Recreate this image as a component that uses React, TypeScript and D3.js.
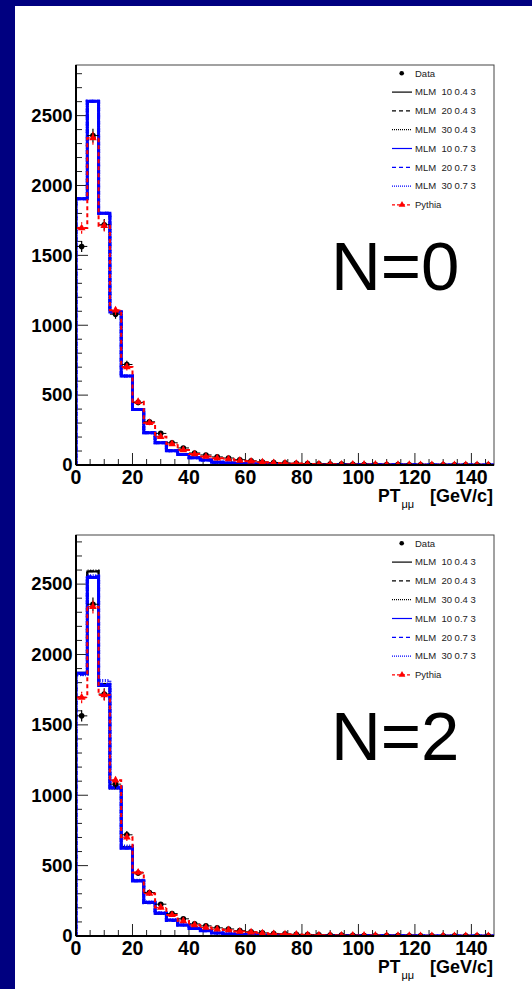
import React from "react";
import * as d3 from "d3";

// ---- Data (37 bins of 4 GeV/c, 0..148) ----
const binWidth = 4;
const nBins = 37;
const xTickLabels = [0, 20, 40, 60, 80, 100, 120, 140];
const yTickLabels = [0, 500, 1000, 1500, 2000, 2500];

const dataCounts = [1564, 2357, 1719, 1079, 719, 448, 309, 226, 159, 122, 86, 72, 58, 50, 38, 30, 22, 18, 15, 12, 10, 8, 7, 6, 5, 4, 4, 3, 3, 2, 2, 2, 2, 1, 1, 1, 1];
const pythiaCounts = [1695, 2340, 1712, 1107, 702, 452, 302, 202, 150, 107, 78, 60, 48, 42, 32, 26, 19, 15, 12, 10, 8, 6, 5, 4, 4, 3, 3, 2, 2, 2, 1, 1, 1, 1, 1, 1, 1];

// N=0: all MLM samples coincide
const mlmN0 = [1905, 2602, 1802, 1095, 636, 398, 231, 159, 102, 76, 52, 36, 19, 14, 10, 8, 6, 5, 4, 3, 3, 2, 2, 2, 1, 1, 1, 1, 1, 1, 0, 0, 0, 0, 0, 0, 0];

// N=2
const mlmN2_10_04 = [1870, 2590, 1785, 1050, 628, 392, 236, 160, 113, 78, 54, 38, 22, 15, 11, 8, 6, 5, 4, 3, 3, 2, 2, 2, 1, 1, 1, 1, 1, 1, 0, 0, 0, 0, 0, 0, 0];
const mlmN2_20_04 = [1866, 2592, 1790, 1055, 630, 395, 238, 162, 112, 77, 53, 37, 21, 15, 11, 8, 6, 5, 4, 3, 3, 2, 2, 2, 1, 1, 1, 1, 1, 1, 0, 0, 0, 0, 0, 0, 0];
const mlmN2_30_04 = [1862, 2596, 1792, 1048, 634, 390, 235, 158, 110, 76, 52, 36, 20, 14, 10, 8, 6, 5, 4, 3, 3, 2, 2, 2, 1, 1, 1, 1, 1, 1, 0, 0, 0, 0, 0, 0, 0];
const mlmN2_10_07 = [1866, 2547, 1780, 1052, 623, 391, 240, 161, 114, 78, 54, 38, 22, 15, 11, 8, 6, 5, 4, 3, 3, 2, 2, 2, 1, 1, 1, 1, 1, 1, 0, 0, 0, 0, 0, 0, 0];
const mlmN2_20_07 = [1860, 2552, 1788, 1058, 626, 393, 237, 163, 111, 79, 55, 37, 21, 15, 11, 8, 6, 5, 4, 3, 3, 2, 2, 2, 1, 1, 1, 1, 1, 1, 0, 0, 0, 0, 0, 0, 0];
const mlmN2_30_07 = [1856, 2560, 1815, 1060, 640, 396, 242, 165, 115, 80, 55, 39, 23, 16, 11, 8, 6, 5, 4, 3, 3, 2, 2, 2, 1, 1, 1, 1, 1, 1, 0, 0, 0, 0, 0, 0, 0];

const legendLabels = ["MLM  10 0.4 3", "MLM  20 0.4 3", "MLM  30 0.4 3", "MLM  10 0.7 3", "MLM  20 0.7 3", "MLM  30 0.7 3"];
const mlmStyles = [
  { color: "#000", dash: "none", w: 2 },
  { color: "#000", dash: "4,3", w: 2 },
  { color: "#000", dash: "1,1.6", w: 2 },
  { color: "#0000ff", dash: "none", w: 3 },
  { color: "#0000ff", dash: "4,3", w: 3 },
  { color: "#0000ff", dash: "1,1.6", w: 3 },
];

const FONT = "'Liberation Sans', Arial, Helvetica, sans-serif";
const X0 = 76, X1 = 494;

function histPath(vals: number[], x: d3.ScaleLinear<number, number>, y: d3.ScaleLinear<number, number>) {
  const pts: [number, number][] = [[x(0), y(0)]];
  vals.forEach((v, i) => {
    pts.push([x(i * binWidth), y(v)]);
    pts.push([x((i + 1) * binWidth), y(v)]);
  });
  pts.push([x(vals.length * binWidth), y(0)]);
  return d3.line()(pts) as string;
}

function Panel({ top, bottom, series, label, id }: { top: number; bottom: number; series: number[][]; label: string; id: string }) {
  const ymax = 1.1 * (d3.max(series[0]) as number);
  const x = d3.scaleLinear().domain([0, nBins * binWidth]).range([X0, X1]);
  const y = d3.scaleLinear().domain([0, ymax]).range([bottom, top]);
  const xMinor = d3.range(0, nBins * binWidth, 5);
  const yMinor = d3.range(0, ymax, 100);
  const centers = d3.range(nBins).map((i) => (i + 0.5) * binWidth);
  const tri = d3.symbol(d3.symbolTriangle, 26)() as string;
  const legY = (i: number) => top + 8.3 + i * 18.8;

  return (
    <g>
      <defs>
        <clipPath id={id}>
          <rect x={X0} y={top} width={X1 - X0} height={bottom - top} />
        </clipPath>
      </defs>
      {/* frame */}
      <rect x={X0} y={top} width={X1 - X0} height={bottom - top} fill="#fff" stroke="#444" strokeWidth={1} />
      {/* ticks */}
      {xMinor.map((v) => (
        <line key={"xm" + v} x1={x(v)} x2={x(v)} y1={bottom} y2={bottom - (v % 20 === 0 ? 12 : 6)} stroke="#222" strokeWidth={1} />
      ))}
      {yMinor.map((v) => (
        <line key={"ym" + v} x1={X0} x2={X0 + (v % 500 === 0 ? 12 : 6)} y1={y(v)} y2={y(v)} stroke="#222" strokeWidth={1} />
      ))}
      <g clipPath={`url(#${id})`}>
        {/* MLM histograms */}
        {series.map((s, k) => (
          <path key={"h" + k} d={histPath(s, x, y)} fill="none" stroke={mlmStyles[k].color} strokeWidth={mlmStyles[k].w} strokeDasharray={mlmStyles[k].dash} />
        ))}
        {/* Data points */}
        {dataCounts.map((v, i) => {
          const e = Math.sqrt(v);
          return (
            <g key={"d" + i}>
              <line x1={x(i * binWidth)} x2={x((i + 1) * binWidth)} y1={y(v)} y2={y(v)} stroke="#000" strokeWidth={1} />
              <line x1={x(centers[i])} x2={x(centers[i])} y1={y(v - e)} y2={y(v + e)} stroke="#000" strokeWidth={1.2} />
              <circle cx={x(centers[i])} cy={y(v)} r={2.8} fill="#000" />
            </g>
          );
        })}
        {/* Pythia */}
        <path d={histPath(pythiaCounts, x, y)} fill="none" stroke="#ff0000" strokeWidth={2} strokeDasharray="4,3" />
        {pythiaCounts.map((v, i) => {
          const e = Math.sqrt(v);
          return (
            <g key={"p" + i}>
              <line x1={x(i * binWidth)} x2={x((i + 1) * binWidth)} y1={y(v)} y2={y(v)} stroke="#ff0000" strokeWidth={1} strokeDasharray="3,2" />
              <line x1={x(centers[i])} x2={x(centers[i])} y1={y(v - e)} y2={y(v + e)} stroke="#ff0000" strokeWidth={1.2} strokeDasharray="3,2" />
              <path d={tri} transform={`translate(${x(centers[i])},${y(v)})`} fill="#ff0000" />
            </g>
          );
        })}
      </g>
      {/* axes lines */}
      <line x1={X0} x2={X0} y1={top} y2={bottom} stroke="#000" strokeWidth={2} />
      <line x1={X0} x2={X1} y1={bottom} y2={bottom} stroke="#000" strokeWidth={2} />
      {/* tick labels */}
      {xTickLabels.map((v) => (
        <text key={"xl" + v} x={x(v)} y={bottom + 18.5} textAnchor="middle" fontFamily={FONT} fontWeight="bold" fontSize={19.5} fill="#000">{v}</text>
      ))}
      {yTickLabels.map((v) => (
        <text key={"yl" + v} x={72.5} y={y(v) + 6.3} textAnchor="end" fontFamily={FONT} fontWeight="bold" fontSize={18.5} fill="#000">{v}</text>
      ))}
      {/* axis title */}
      <text x={378} y={bottom + 37} fontFamily={FONT} fontWeight="bold" fontSize={17.5} fill="#000">PT</text>
      <text x={401.5} y={bottom + 43} fontFamily={FONT} fontSize={11} fill="#000">μμ</text>
      <text x={493} y={bottom + 37} textAnchor="end" fontFamily={FONT} fontWeight="bold" fontSize={18} fill="#000">[GeV/c]</text>
      {/* legend */}
      <circle cx={401.7} cy={legY(0)} r={2.3} fill="#000" />
      <text x={415} y={legY(0) + 3.3} fontFamily={FONT} fontSize={9.5} fill="#222">Data</text>
      {legendLabels.map((lab, k) => (
        <g key={"lg" + k}>
          <line x1={392} x2={412} y1={legY(k + 1)} y2={legY(k + 1)} stroke={mlmStyles[k].color} strokeWidth={1.2} strokeDasharray={mlmStyles[k].dash === "1,1.6" ? "1,1" : mlmStyles[k].dash} />
          <text x={415} y={legY(k + 1) + 3.3} fontFamily={FONT} fontSize={9.5} fill="#222" style={{ whiteSpace: "pre" }}>{lab}</text>
        </g>
      ))}
      <line x1={392} x2={412} y1={legY(7)} y2={legY(7)} stroke="#ff0000" strokeWidth={1.2} strokeDasharray="3,2" />
      <path d={d3.symbol(d3.symbolTriangle, 20)() as string} transform={`translate(402,${legY(7)})`} fill="#ff0000" />
      <text x={415} y={legY(7) + 3.3} fontFamily={FONT} fontSize={9.5} fill="#222">Pythia</text>
      {/* big label */}
      <text x={331} y={top + 225} fontFamily={FONT} fontSize={69} fill="#000">{label}</text>
    </g>
  );
}

export default function App() {
  return (
    <div style={{ position: "absolute", left: 0, top: 0 }}>
      <svg width={532} height={989} style={{ display: "block" }}>
        <rect x={0} y={0} width={532} height={989} fill="#000080" />
        <rect x={15} y={6} width={517} height={983} fill="#fff" />
        <Panel id="c1" top={65} bottom={465} series={[mlmN0, mlmN0, mlmN0, mlmN0, mlmN0, mlmN0]} label="N=0" />
        <Panel id="c2" top={535} bottom={936} series={[mlmN2_10_04, mlmN2_20_04, mlmN2_30_04, mlmN2_10_07, mlmN2_20_07, mlmN2_30_07]} label="N=2" />
      </svg>
    </div>
  );
}
